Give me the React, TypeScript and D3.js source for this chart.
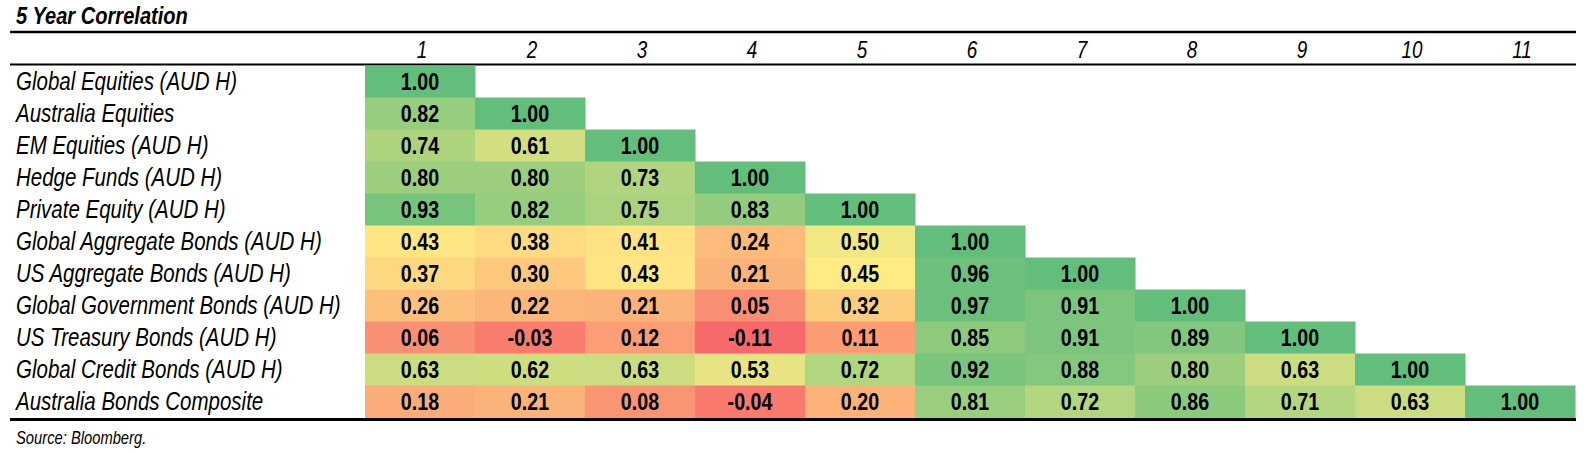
import * as d3 from 'd3'
import React, { useEffect, useRef } from 'react'

const title = '5 Year Correlation'
const source = 'Source: Bloomberg.'

const rowLabels = [
    'Global Equities (AUD H)',
    'Australia Equities',
    'EM Equities (AUD H)',
    'Hedge Funds (AUD H)',
    'Private Equity (AUD H)',
    'Global Aggregate Bonds (AUD H)',
    'US Aggregate Bonds (AUD H)',
    'Global Government Bonds (AUD H)',
    'US Treasury Bonds (AUD H)',
    'Global Credit Bonds (AUD H)',
    'Australia Bonds Composite',
]

const columnLabels = ['1', '2', '3', '4', '5', '6', '7', '8', '9', '10', '11']

// lower triangle, row by row
const correlations = [
    [1.0],
    [0.82, 1.0],
    [0.74, 0.61, 1.0],
    [0.8, 0.8, 0.73, 1.0],
    [0.93, 0.82, 0.75, 0.83, 1.0],
    [0.43, 0.38, 0.41, 0.24, 0.5, 1.0],
    [0.37, 0.3, 0.43, 0.21, 0.45, 0.96, 1.0],
    [0.26, 0.22, 0.21, 0.05, 0.32, 0.97, 0.91, 1.0],
    [0.06, -0.03, 0.12, -0.11, 0.11, 0.85, 0.91, 0.89, 1.0],
    [0.63, 0.62, 0.63, 0.53, 0.72, 0.92, 0.88, 0.8, 0.63, 1.0],
    [0.18, 0.21, 0.08, -0.04, 0.2, 0.81, 0.72, 0.86, 0.71, 0.63, 1.0],
]

const colorStops = ['#F8696B', '#FFEB84', '#63BE7B']
const midpoint = 0.45

const W = 1587
const H = 453
const FONT = '"Liberation Sans", Arial, sans-serif'
const NARROW = 0.82

const App = (): JSX.Element => {
    const ref = useRef<SVGSVGElement>(null)

    useEffect(() => {
        const svg = d3.select(ref.current)
        svg.selectAll('*').remove()

        const cells = [] as any[]
        correlations.forEach((row, r) => {
            row.forEach((value, c) => {
                cells.push({ row: rowLabels[r], col: columnLabels[c], value })
            })
        })
        const all = cells.map((d) => d.value)
        const minV = d3.min(all) as number
        const maxV = d3.max(all) as number

        const color = d3
            .scaleLinear<string>()
            .domain([minV, midpoint, maxV])
            .range(colorStops)
            .interpolate(d3.interpolateRgb)

        // plain hyphen for negatives, like the source table
        const fmt = d3.formatLocale({
            decimal: '.',
            thousands: ',',
            grouping: [3],
            currency: ['', ''],
            minus: '-',
        }).format('.2f')

        const x = d3.scaleBand().domain(columnLabels).range([365, 1575])
        const y = d3.scaleBand().domain(rowLabels).range([65.5, 417.5])

        const narrowText = (g, tx, ty, text) =>
            g
                .append('text')
                .attr('transform', `translate(${tx},${ty}) scale(${NARROW},1)`)
                .text(text)

        // title
        narrowText(svg.append('g'), 16, 24, title)
            .attr('font-size', 24.5)
            .attr('font-weight', 'bold')
            .attr('font-style', 'italic')

        // rules
        const rules = [
            { y: 32, w: 2.5 },
            { y: 64.5, w: 2 },
            { y: 419.5, w: 3 },
        ]
        svg.append('g')
            .selectAll('line')
            .data(rules)
            .enter()
            .append('line')
            .attr('x1', 10)
            .attr('x2', 1576)
            .attr('y1', (d) => d.y)
            .attr('y2', (d) => d.y)
            .attr('stroke', '#000')
            .attr('stroke-width', (d) => d.w)

        // column headers
        const header = svg.append('g').attr('font-size', 23).attr('font-style', 'italic')
        columnLabels.forEach((c) => {
            narrowText(header, (x(c) as number) + x.bandwidth() / 2 + 2, 58, c).attr(
                'text-anchor',
                'middle'
            )
        })

        // row labels
        const labels = svg.append('g').attr('font-size', 25).attr('font-style', 'italic')
        rowLabels.forEach((r) => {
            narrowText(labels, 16, (y(r) as number) + y.bandwidth() / 2, r).attr('dy', '0.35em')
        })

        // cells
        svg.append('g')
            .selectAll('rect')
            .data(cells)
            .enter()
            .append('rect')
            .attr('x', (d) => x(d.col) as number)
            .attr('y', (d) => y(d.row) as number)
            .attr('width', x.bandwidth() + 0.5)
            .attr('height', y.bandwidth() + 0.5)
            .attr('fill', (d) => color(d.value))

        const nums = svg.append('g').attr('font-size', 24).attr('font-weight', 'bold')
        cells.forEach((d) => {
            narrowText(
                nums,
                (x(d.col) as number) + x.bandwidth() / 2,
                (y(d.row) as number) + y.bandwidth() / 2,
                fmt(d.value)
            )
                .attr('text-anchor', 'middle')
                .attr('dy', '0.35em')
        })

        // source
        narrowText(svg.append('g'), 16, 444, source)
            .attr('font-size', 18)
            .attr('font-style', 'italic')
    }, [])

    return (
        <svg
            ref={ref}
            width={W}
            height={H}
            style={{ position: 'absolute', left: 0, top: 0, background: '#fff', fontFamily: FONT }}
        />
    )
}

export default App
